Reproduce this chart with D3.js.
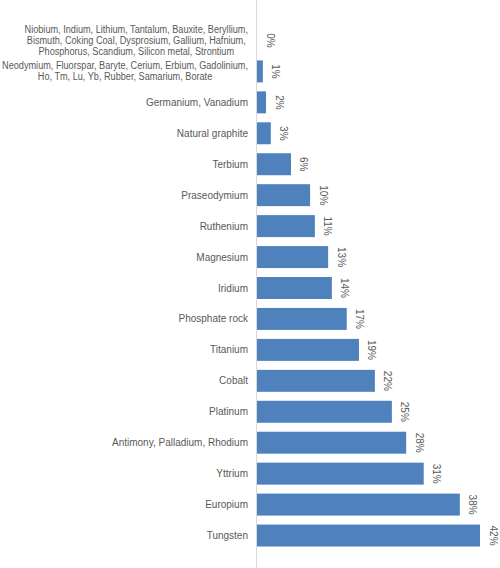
<!DOCTYPE html>
<html>
<head>
<meta charset="utf-8">
<script src="https://cdn.jsdelivr.net/npm/d3@7"></script>
<style>
	body { margin: 0; background: #fff; }
	svg { display: block; }
</style>
</head>
<body>
<script>
// categories, top to bottom (\n marks a wrapped line)
var categories = [
	'Niobium, Indium, Lithium, Tantalum, Bauxite, Beryllium,\nBismuth, Coking Coal, Dysprosium, Gallium, Hafnium,\nPhosphorus, Scandium, Silicon metal, Strontium',
	'Neodymium, Fluorspar, Baryte, Cerium, Erbium, Gadolinium,\nHo, Tm, Lu, Yb, Rubber, Samarium, Borate',
	'Germanium, Vanadium',
	'Natural graphite',
	'Terbium',
	'Praseodymium',
	'Ruthenium',
	'Magnesium',
	'Iridium',
	'Phosphate rock',
	'Titanium',
	'Cobalt',
	'Platinum',
	'Antimony, Palladium, Rhodium',
	'Yttrium',
	'Europium',
	'Tungsten'
]
// share in percent
var values = [0, 1.1, 1.7, 2.6, 6.4, 10.0, 10.9, 13.4, 14.1, 16.9, 19.2, 22.2, 25.4, 28.1, 31.4, 38.2, 42.0]

var W = 500, H = 568
var svg = d3.select('body').append('svg')
	.attr('width', W)
	.attr('height', H)

var x = d3.scaleLinear().domain([0, 42]).range([257, 480])
var y = d3.scaleBand().domain(categories).range([25, 551]).paddingInner(0.29).paddingOuter(0.145)

var data = categories.map(function(c, i) { return { cat: c, val: values[i] } })

svg.append('line')
	.attr('x1', 256.5).attr('x2', 256.5)
	.attr('y1', 0).attr('y2', H)
	.attr('stroke', '#d9d9d9')
	.attr('stroke-width', 1)

svg.append('g').selectAll('rect')
	.data(data)
	.enter()
	.append('rect')
	.attr('x', x(0))
	.attr('y', function(d) { return y(d.cat) })
	.attr('width', function(d) { return x(d.val) - x(0) })
	.attr('height', y.bandwidth())
	.attr('fill', '#4f81bd')

// category labels
var labels = svg.append('g')
	.attr('font-family', '"Liberation Sans", Arial, sans-serif')
	.attr('font-size', 10)
	.attr('fill', '#595959')
	.selectAll('text')
	.data(data)
	.enter()
	.append('text')

labels.selectAll('tspan')
	.data(function(d) { return d.cat.split('\n') })
	.enter()
	.append('tspan')
	.attr('dy', function(d, i) { return i === 0 ? '0.35em' : 11 })
	.text(function(d) { return d })

// widest wrapped label sets a common squeeze for all wrapped labels
var widths = []
labels.each(function() {
	var wmax = 0
	d3.select(this).selectAll('tspan').each(function() { wmax = Math.max(wmax, this.getComputedTextLength()) })
	widths.push(wmax)
})
var squeeze = Math.min(1, 246 / d3.max(widths))

// block ends at 248, lines centred inside it
labels
	.attr('text-anchor', 'middle')
	.attr('transform', function(d, i) {
		var n = d.cat.split('\n').length
		var k = n > 1 ? squeeze : 1
		var cy = y(d.cat) + y.bandwidth() / 2 - (n - 1) * 11 / 2
		return 'translate(248,' + cy + ') scale(' + k + ',1)'
	})
	.selectAll('tspan')
	.attr('x', function() { return -widths[categories.indexOf(d3.select(this.parentNode).datum().cat)] / 2 })

// value labels, turned a quarter clockwise
svg.append('g')
	.attr('font-family', '"Liberation Sans", Arial, sans-serif')
	.attr('font-size', 10)
	.attr('fill', '#595959')
	.attr('text-anchor', 'middle')
	.selectAll('text')
	.data(data)
	.enter()
	.append('text')
	.attr('transform', function(d) {
		return 'translate(' + (x(d.val) + 13) + ',' + (y(d.cat) + y.bandwidth() / 2) + ') rotate(90)'
	})
	.attr('dy', '0.35em')
	.text(function(d) { return Math.round(d.val) + '%' })
</script>
</body>
</html>
